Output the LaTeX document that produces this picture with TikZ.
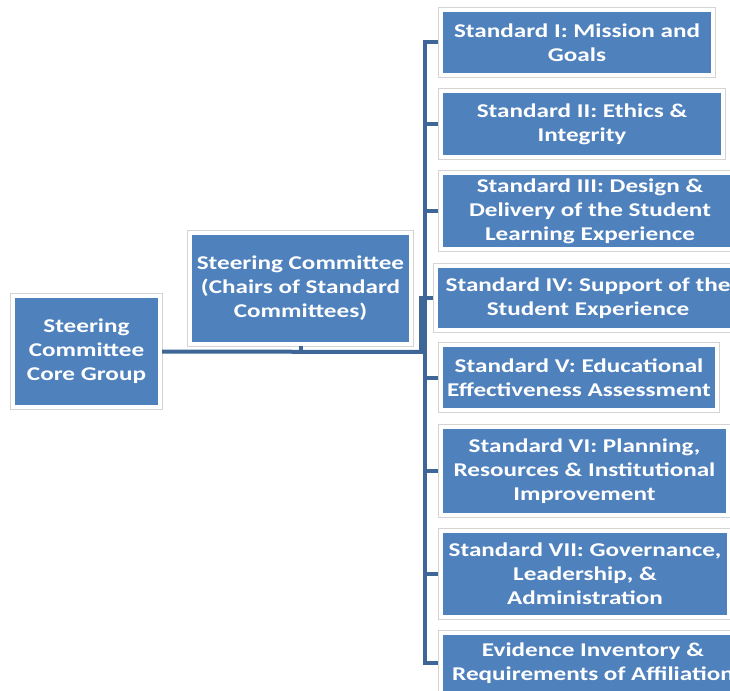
\documentclass[tikz,border=0pt]{standalone}
\usepackage{fontspec}
\setmainfont{Carlito}[FakeStretch=1.29]
\definecolor{boxblue}{HTML}{4F81BD}
\definecolor{linec}{HTML}{3E6696}
\definecolor{framec}{HTML}{D4D4D4}
\begin{document}
\begin{tikzpicture}[x=1pt,y=-1pt,
  box/.style={fill=boxblue, text=white, inner sep=0pt, align=center,
    font=\bfseries\fontsize{19.5}{24}\selectfont},
  conn/.style={draw=linec, line width=4pt}]
\clip (0,0) rectangle (730,690);
\fill[white] (0,0) rectangle (730,690);
% nodes (blue rectangles)
\node[box, minimum width=143pt, minimum height=107pt] (core) at (86.5,351.5) {Steering\\Committee\\Core Group};
\node[box, minimum width=217pt, minimum height=107pt] (steer) at (300.5,288.5) {Steering Committee\\(Chairs of Standard\\Committees)};
\node[box, minimum width=268pt, minimum height=61pt] (b1) at (577,42.5) {Standard I: Mission and\\Goals};
\node[box, minimum width=278pt, minimum height=62pt] (b2) at (582,124) {Standard II: Ethics \&\\Integrity};
\node[box, minimum width=294pt, minimum height=72pt] (b3) at (590,211) {Standard III: Design \&\\Delivery of the Student\\Learning Experience};
\node[box, minimum width=300pt, minimum height=60pt] (b4) at (588,298) {Standard IV: Support of the\\Student Experience};
\node[box, minimum width=272pt, minimum height=61pt] (b5) at (579,377.5) {Standard V: Educational\\Effectiveness Assessment};
\node[box, minimum width=283pt, minimum height=84pt] (b6) at (584.5,471) {Standard VI: Planning,\\Resources \& Institutional\\Improvement};
\node[box, minimum width=284pt, minimum height=82pt] (b7) at (585,574) {Standard VII: Governance,\\Leadership, \&\\Administration};
\node[box, minimum width=300pt, minimum height=56pt] (b8) at (593,663) {Evidence Inventory \&\\Requirements of Affiliation};
% frames
\foreach \n in {core,steer,b1,b2,b3,b4,b5,b6,b7,b8}
  \draw[framec, line width=0.8pt] ([shift={(-4pt,-4pt)}]\n.south west) rectangle ([shift={(4pt,4pt)}]\n.north east);
% connectors
\coordinate (j) at (425,352);
\coordinate (j4) at (421,352);
\coordinate (tick) at (steer.south |- j);
\draw[conn] ([xshift=4pt]core.east) -- (j);
\draw[conn] ([yshift=-4pt]steer.south) -- (tick);
\foreach \b in {b1,b2,b3,b5,b6,b7,b8}
  \draw[conn, shorten >=4.5pt] (j) |- (\b.west);
\draw[conn, shorten >=4.5pt] (j4) |- (b4.west);
\end{tikzpicture}
\end{document}
